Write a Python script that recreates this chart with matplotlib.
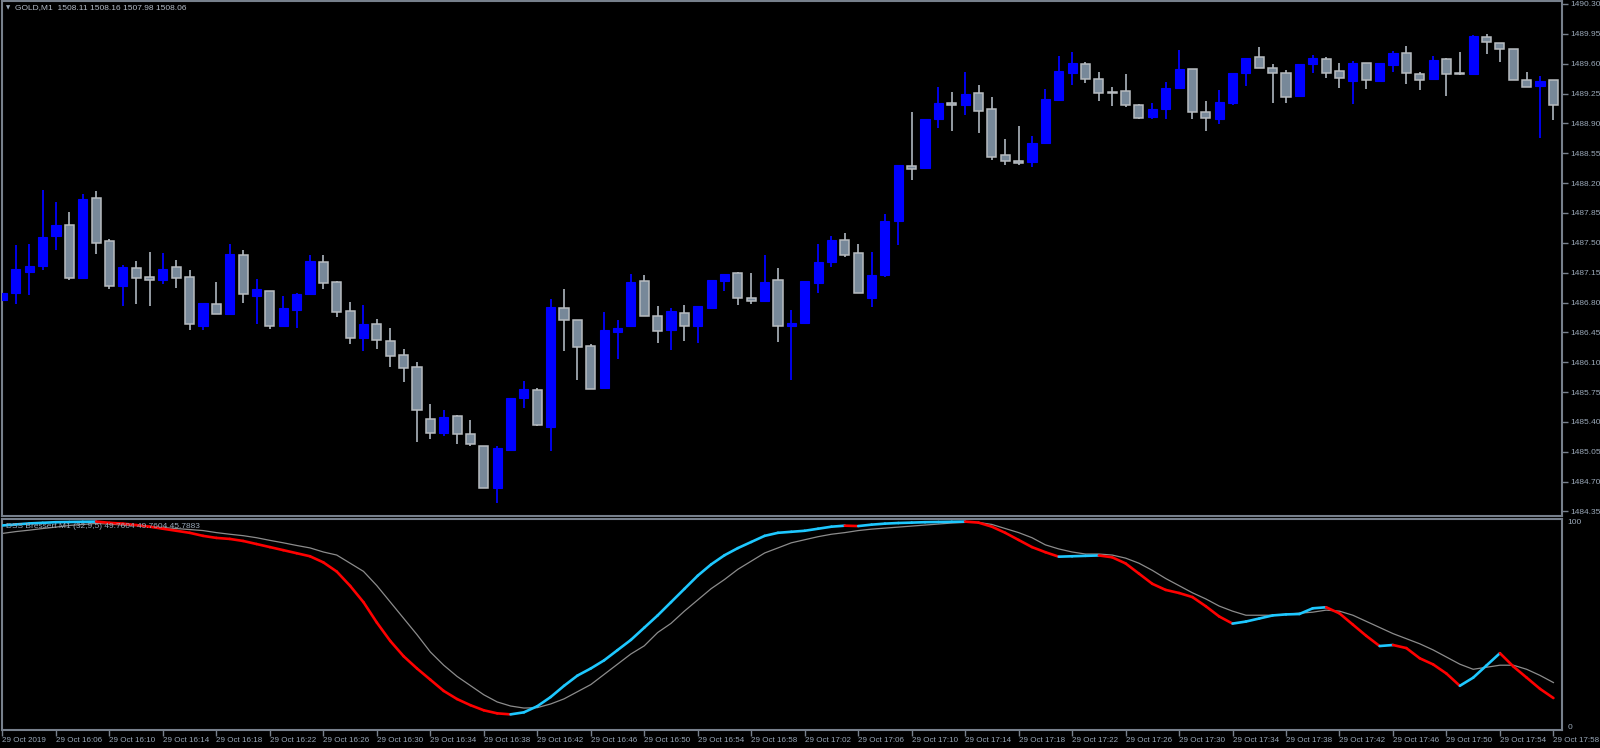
import matplotlib
matplotlib.use('Agg')
import matplotlib.pyplot as plt
from matplotlib.collections import LineCollection
import numpy as np

# GOLD M1 candles, 16:02 .. 17:58
opens = [1486.83, 1486.91, 1487.16, 1487.23, 1487.58, 1487.71, 1487.09, 1488.03, 1487.52, 1486.99,
         1487.21, 1487.10, 1487.06, 1487.22, 1487.10, 1486.53, 1486.78, 1486.67, 1487.36, 1486.88,
         1486.94, 1486.53, 1486.71, 1486.90, 1487.28, 1487.04, 1486.70, 1486.38, 1486.55, 1486.35,
         1486.19, 1486.04, 1485.43, 1485.27, 1485.47, 1485.26, 1485.12, 1484.62, 1485.07, 1485.68,
         1485.77, 1485.34, 1486.74, 1486.60, 1486.29, 1485.80, 1486.46, 1486.52, 1487.05, 1486.64,
         1486.48, 1486.68, 1486.52, 1486.74, 1487.05, 1487.15, 1486.85, 1486.82, 1487.06, 1486.52,
         1486.56, 1487.03, 1487.27, 1487.53, 1487.38, 1486.85, 1487.12, 1487.76, 1488.40, 1488.38,
         1488.95, 1489.14, 1489.12, 1489.26, 1489.07, 1488.53, 1488.46, 1488.45, 1488.67, 1489.18,
         1489.49, 1489.60, 1489.42, 1489.27, 1489.28, 1489.12, 1488.97, 1489.07, 1489.31, 1489.54,
         1489.03, 1488.95, 1489.14, 1489.49, 1489.68, 1489.55, 1489.49, 1489.22, 1489.60, 1489.66,
         1489.51, 1489.40, 1489.61, 1489.40, 1489.59, 1489.73, 1489.48, 1489.42, 1489.66, 1489.49,
         1489.48, 1489.91, 1489.84, 1489.77, 1489.41, 1489.34, 1489.41]
highs = [1487.03, 1487.47, 1487.49, 1488.12, 1487.98, 1487.86, 1488.07, 1488.11, 1487.55, 1487.24,
         1487.29, 1487.39, 1487.38, 1487.30, 1487.18, 1486.79, 1487.04, 1487.49, 1487.42, 1487.08,
         1486.94, 1486.88, 1486.91, 1487.36, 1487.36, 1487.05, 1486.81, 1486.77, 1486.61, 1486.50,
         1486.26, 1486.10, 1485.61, 1485.54, 1485.48, 1485.42, 1485.12, 1485.12, 1485.68, 1485.88,
         1485.80, 1486.84, 1486.96, 1486.60, 1486.31, 1486.69, 1486.60, 1487.13, 1487.12, 1486.76,
         1486.74, 1486.77, 1486.76, 1487.06, 1487.13, 1487.16, 1487.15, 1487.36, 1487.20, 1486.71,
         1487.05, 1487.49, 1487.58, 1487.61, 1487.49, 1487.39, 1487.84, 1488.41, 1489.03, 1488.95,
         1489.33, 1489.27, 1489.50, 1489.35, 1489.21, 1488.72, 1488.87, 1488.75, 1489.30, 1489.69,
         1489.74, 1489.62, 1489.50, 1489.33, 1489.48, 1489.13, 1489.14, 1489.39, 1489.76, 1489.54,
         1489.16, 1489.29, 1489.49, 1489.67, 1489.80, 1489.60, 1489.53, 1489.60, 1489.70, 1489.68,
         1489.61, 1489.63, 1489.61, 1489.61, 1489.75, 1489.81, 1489.50, 1489.69, 1489.67, 1489.74,
         1489.94, 1489.95, 1489.84, 1489.77, 1489.50, 1489.45, 1489.41]
lows = [1486.60, 1486.78, 1486.89, 1487.18, 1487.42, 1487.06, 1487.09, 1487.37, 1486.96, 1486.76,
        1486.78, 1486.76, 1487.02, 1486.97, 1486.48, 1486.48, 1486.67, 1486.67, 1486.79, 1486.55,
        1486.49, 1486.53, 1486.50, 1486.90, 1486.96, 1486.63, 1486.31, 1486.23, 1486.26, 1486.04,
        1485.87, 1485.17, 1485.20, 1485.24, 1485.14, 1485.12, 1484.63, 1484.45, 1485.06, 1485.56,
        1485.35, 1485.06, 1486.23, 1485.89, 1485.79, 1485.80, 1486.14, 1486.52, 1486.64, 1486.33,
        1486.24, 1486.35, 1486.33, 1486.72, 1486.94, 1486.77, 1486.78, 1486.82, 1486.34, 1485.89,
        1486.56, 1486.91, 1487.22, 1487.33, 1486.91, 1486.75, 1487.10, 1487.47, 1488.24, 1488.38,
        1488.85, 1488.81, 1489.00, 1488.79, 1488.47, 1488.41, 1488.41, 1488.39, 1488.67, 1489.18,
        1489.35, 1489.37, 1489.16, 1489.10, 1489.09, 1488.95, 1488.95, 1488.95, 1489.31, 1488.95,
        1488.81, 1488.89, 1489.12, 1489.34, 1489.55, 1489.14, 1489.14, 1489.22, 1489.49, 1489.43,
        1489.32, 1489.13, 1489.30, 1489.39, 1489.50, 1489.36, 1489.29, 1489.42, 1489.22, 1489.47,
        1489.48, 1489.71, 1489.62, 1489.41, 1489.33, 1488.73, 1488.94]
closes = [1486.91, 1487.19, 1487.23, 1487.57, 1487.71, 1487.09, 1488.01, 1487.50, 1486.99, 1487.22,
          1487.09, 1487.06, 1487.19, 1487.09, 1486.55, 1486.79, 1486.67, 1487.37, 1486.90, 1486.96,
          1486.52, 1486.74, 1486.90, 1487.29, 1487.03, 1486.69, 1486.38, 1486.55, 1486.36, 1486.17,
          1486.03, 1485.54, 1485.27, 1485.46, 1485.26, 1485.14, 1484.63, 1485.09, 1485.68, 1485.79,
          1485.36, 1486.75, 1486.59, 1486.28, 1485.79, 1486.48, 1486.50, 1487.04, 1486.64, 1486.47,
          1486.70, 1486.53, 1486.76, 1487.06, 1487.13, 1486.85, 1486.82, 1487.04, 1486.53, 1486.56,
          1487.05, 1487.28, 1487.53, 1487.36, 1486.91, 1487.12, 1487.76, 1488.41, 1488.37, 1488.95,
          1489.14, 1489.12, 1489.25, 1489.05, 1488.51, 1488.46, 1488.44, 1488.67, 1489.19, 1489.51,
          1489.61, 1489.42, 1489.26, 1489.26, 1489.12, 1488.96, 1489.07, 1489.31, 1489.54, 1489.03,
          1488.96, 1489.15, 1489.49, 1489.67, 1489.55, 1489.49, 1489.21, 1489.60, 1489.67, 1489.49,
          1489.43, 1489.61, 1489.41, 1489.61, 1489.73, 1489.49, 1489.41, 1489.64, 1489.48, 1489.48,
          1489.92, 1489.85, 1489.77, 1489.41, 1489.33, 1489.40, 1489.12]

# DSS Bressert main line and signal line (0..100)
dss = [98.3, 98.8, 99.3, 99.6, 99.9, 100.0, 100.1, 100.2, 99.6, 99.2,
       98.5, 97.7, 96.7, 95.7, 94.7, 93.2, 92.2, 91.7, 90.7, 89.2,
       87.7, 86.2, 84.7, 83.2, 80.2, 75.7, 68.7, 60.7, 50.7, 41.7,
       34.2, 28.2, 22.7, 17.2, 13.2, 10.2, 7.7, 6.2, 5.7, 6.7,
       9.7, 14.2, 19.7, 24.7, 28.2, 32.2, 37.2, 42.2, 48.2, 54.2,
       60.7, 67.2, 73.7, 79.2, 83.7, 87.2, 90.2, 93.2, 94.7, 95.2,
       95.7, 96.7, 97.7, 98.2, 98.0, 98.7, 99.2, 99.5, 99.7, 99.9,
       100.0, 100.1, 100.2, 99.7, 97.7, 94.7, 91.2, 87.7, 85.2, 83.0,
       83.2, 83.4, 83.6, 82.7, 79.7, 74.7, 69.7, 66.7, 65.2, 63.2,
       58.7, 53.7, 50.2, 51.2, 52.7, 54.2, 54.7, 54.9, 57.7, 58.2,
       55.2, 49.7, 44.2, 39.2, 39.7, 38.2, 33.2, 30.2, 25.7, 19.7,
       23.7, 29.7, 35.7, 29.2, 23.7, 18.2, 13.7]
signal = [94.4, 95.3, 96.0, 96.8, 97.5, 98.3, 98.8, 99.3, 99.0, 98.5,
          98.3, 97.8, 97.3, 96.8, 96.3, 95.8, 94.8, 94.0, 93.3, 92.3,
          91.0, 89.8, 88.5, 87.3, 85.3, 83.8, 79.8, 75.8, 68.8, 60.8,
          52.8, 44.8, 36.3, 29.8, 24.3, 19.8, 15.3, 11.8, 9.8, 8.8,
          9.0, 10.8, 13.3, 16.8, 20.3, 25.3, 30.3, 35.3, 39.3, 45.8,
          50.3, 56.3, 61.8, 67.3, 71.8, 76.8, 80.8, 84.8, 87.3, 89.8,
          91.3, 92.8, 94.0, 94.8, 95.8, 96.5, 97.0, 97.5, 98.0, 98.5,
          99.0, 99.5, 99.8, 99.8, 98.8, 96.8, 94.8, 92.3, 88.8, 86.8,
          85.3, 84.3, 84.3, 83.8, 82.3, 79.8, 76.3, 72.3, 68.8, 65.3,
          62.3, 58.8, 56.3, 54.3, 54.3, 54.3, 54.8, 55.3, 55.8, 56.8,
          56.3, 54.3, 51.3, 48.3, 45.3, 42.8, 40.3, 37.3, 33.8, 30.3,
          27.8, 28.8, 29.8, 29.8, 27.8, 24.8, 21.3]

time_labels = ['29 Oct 2019', '29 Oct 16:06', '29 Oct 16:10', '29 Oct 16:14', '29 Oct 16:18',
               '29 Oct 16:22', '29 Oct 16:26', '29 Oct 16:30', '29 Oct 16:34', '29 Oct 16:38',
               '29 Oct 16:42', '29 Oct 16:46', '29 Oct 16:50', '29 Oct 16:54', '29 Oct 16:58',
               '29 Oct 17:02', '29 Oct 17:06', '29 Oct 17:10', '29 Oct 17:14', '29 Oct 17:18',
               '29 Oct 17:22', '29 Oct 17:26', '29 Oct 17:30', '29 Oct 17:34', '29 Oct 17:38',
               '29 Oct 17:42', '29 Oct 17:46', '29 Oct 17:50', '29 Oct 17:54', '29 Oct 17:58']
price_ticks = [1484.35, 1484.70, 1485.05, 1485.40, 1485.75, 1486.10, 1486.45, 1486.80, 1487.15,
               1487.50, 1487.85, 1488.20, 1488.55, 1488.90, 1489.25, 1489.60, 1489.95, 1490.30]

FRAME = '#77808c'
TXT = '#9aa8b8'
BULL = '#0000ff'
BEAR = '#778899'
plt.rcParams['font.family'] = ['Liberation Sans', 'DejaVu Sans']

W, H = 1600, 748
fig = plt.figure(figsize=(16, 7.48), dpi=100, facecolor='black')
ax1 = fig.add_axes([2 / W, 1 - 516 / H, 1560 / W, 515 / H], facecolor='black')
ax2 = fig.add_axes([2 / W, 1 - 730 / H, 1560 / W, 211 / H], facecolor='black')

n = len(opens)
x = np.arange(n)
o = np.array(opens); c = np.array(closes)
hi = np.array(highs); lo = np.array(lows)
up = c >= o

# candles
for i in range(n):
    col = BULL if up[i] else '#a0a8b0'
    ax1.vlines(x[i], lo[i], hi[i], color=col, lw=1.3, zorder=2)
body_lo = np.minimum(o, c)
body_h = np.maximum(np.abs(c - o), 0.012)
ax1.bar(x[up], body_h[up], bottom=body_lo[up], width=0.68, color=BULL, edgecolor=BULL,
        linewidth=0.8, zorder=3)
ax1.bar(x[~up], body_h[~up], bottom=body_lo[~up], width=0.68, color=BEAR, edgecolor='#b8bcc0',
        linewidth=1.1, zorder=3)

xmin = -0.037
xmax = xmin + 1560 / 13.37
ax1.set_xlim(xmin, xmax)
ax1.set_ylim(1484.297, 1490.335)
ax1.set_xticks([])
ax1.yaxis.tick_right()
ax1.set_yticks(price_ticks)
ax1.set_yticklabels([f'{p:.2f}' for p in price_ticks])
ax1.tick_params(axis='y', colors=FRAME, labelcolor=TXT, labelsize=6, length=4, width=1, pad=2)

# indicator
pts = np.column_stack([x, dss])
segs = np.stack([pts[:-1], pts[1:]], axis=1)
cols = ['#1ec8ff' if dss[i + 1] > dss[i] else '#ff0000' for i in range(n - 1)]
ax2.plot(x, signal, color='#8c8c8c', lw=0.9, zorder=2)
ax2.add_collection(LineCollection(segs, colors=cols, linewidths=1.9, zorder=3,
                                  capstyle='round', joinstyle='round'))
ax2.set_xlim(xmin, xmax)
ax2.set_ylim(-1.96, 101.47)
ax2.yaxis.tick_right()
ax2.set_yticks([0, 100])
ax2.set_yticklabels(['0', '100'])
ax2.tick_params(axis='y', colors=FRAME, labelcolor=TXT, labelsize=6, length=0, pad=4)
ax2.set_xticks(np.arange(0, n, 4))
ax2.set_xticklabels(time_labels, ha='left')
ax2.tick_params(axis='x', colors=FRAME, labelcolor=TXT, labelsize=5.8, length=4, width=1, pad=1)

for ax in (ax1, ax2):
    for s in ax.spines.values():
        s.set_color(FRAME)
        s.set_linewidth(1.5)

fig.text(8 / W, 1 - 8 / H, '\u25bc', color=TXT, fontsize=4, va='center', ha='center',
         family='DejaVu Sans')
fig.text(15 / W, 1 - 8 / H, 'GOLD,M1  1508.11 1508.16 1507.98 1508.06', color='#b4bcc8',
         fontsize=6, va='center')
fig.text(6 / W, 1 - 526 / H, 'DSS Bressert M1 (32,9,5) 49.7604 49.7604 45.7883', color=TXT,
         fontsize=6, va='center', zorder=0)

fig.savefig('out.png', dpi=100, facecolor='black')
